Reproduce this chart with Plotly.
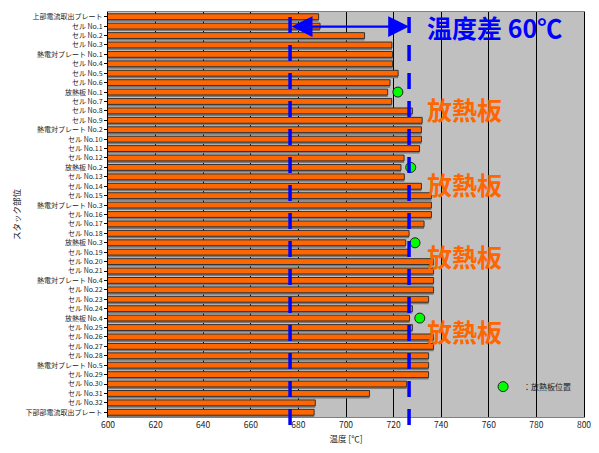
import plotly.graph_objects as go

parts = ["上部電流取出プレート", "セル No.1", "セル No.2", "セル No.3", "熱電対プレート No.1",
         "セル No.4", "セル No.5", "セル No.6", "放熱板 No.1", "セル No.7", "セル No.8", "セル No.9",
         "熱電対プレート No.2", "セル No.10", "セル No.11", "セル No.12", "放熱板 No.2",
         "セル No.13", "セル No.14", "セル No.15", "熱電対プレート No.3", "セル No.16", "セル No.17",
         "セル No.18", "放熱板 No.3", "セル No.19", "セル No.20", "セル No.21", "熱電対プレート No.4",
         "セル No.22", "セル No.23", "セル No.24", "放熱板 No.4", "セル No.25", "セル No.26",
         "セル No.27", "セル No.28", "熱電対プレート No.5", "セル No.29", "セル No.30", "セル No.31",
         "セル No.32", "下部部電流取出プレート"]

temps = [688.5, 689.1, 707.8, 719.3, 719.6, 719.6, 721.9, 718.5, 717.5, 719.2, 727.9, 732.0,
         731.7, 731.7, 730.9, 724.4, 723.1, 724.5, 731.7, 735.9, 735.9, 735.9, 732.8, 726.5,
         725.1, 726.5, 736.8, 736.8, 736.8, 736.8, 734.7, 727.9, 726.7, 727.9, 736.8, 736.8,
         734.7, 734.7, 734.7, 725.5, 709.9, 687.1, 686.6]

sink_names = ["放熱板 No.1", "放熱板 No.2", "放熱板 No.3", "放熱板 No.4"]
sink_temps = [721.8, 727.2, 729.0, 731.0]

dash_low = 676.5
dash_high = 726.5
diff_label = "温度差 60℃"
sink_label = "放熱板"
label_rows = [9.8, 17.8, 25.4, 33.4]

x_ticks = list(range(600, 801, 20))

ypos = list(range(len(parts)))
sink_pos = [parts.index(n) for n in sink_names]

FONT = "Noto Sans CJK JP, Noto Sans, sans-serif"
W = 0.62

fig = go.Figure()
# shadow
fig.add_trace(go.Bar(
    x=temps, y=ypos, orientation="h", width=W, offset=-W / 2 + 0.22,
    marker=dict(color="#7a7a7a", line=dict(width=0)), showlegend=False, hoverinfo="skip"))
fig.add_trace(go.Bar(
    x=temps, y=ypos, orientation="h", width=W, offset=-W / 2,
    marker=dict(color="#FF6600", line=dict(color="#333333", width=1)), showlegend=False))
fig.add_trace(go.Scatter(
    x=sink_temps, y=sink_pos, mode="markers", name="：放熱板位置",
    marker=dict(color="#00FF00", size=10, line=dict(color="#222222", width=1))))

for v in (dash_low, dash_high):
    fig.add_shape(type="line", xref="x", yref="paper", x0=v, x1=v, y0=-0.02, y1=0.993,
                  line=dict(color="#0000FF", width=3.5, dash="16px,12px"))

fig.add_annotation(x=dash_high, y=1.05, ax=dash_low, ay=1.05, xref="x", yref="y",
                   axref="x", ayref="y", text="", showarrow=True, arrowside="end+start",
                   arrowhead=2, arrowsize=1.9, arrowwidth=2.2, arrowcolor="#0000FF")
fig.add_annotation(x=733.0, y=1.1, xref="x", yref="y", text="<b>" + diff_label + "</b>",
                   showarrow=False, xanchor="left", yanchor="middle",
                   font=dict(family=FONT, size=25, color="#0000FF"))
for r in label_rows:
    fig.add_annotation(x=733.0, y=r, xref="x", yref="y", text="<b>" + sink_label + "</b>",
                       showarrow=False, xanchor="left", yanchor="middle",
                       font=dict(family=FONT, size=25, color="#FF6600"))

fig.update_layout(
    width=599, height=453, barmode="overlay",
    margin=dict(l=108, r=8, t=12, b=36),
    paper_bgcolor="white", plot_bgcolor="#C0C0C0",
    font=dict(family=FONT, size=7, color="#222222"),
    legend=dict(x=0.788, y=0.075, xanchor="left", yanchor="middle", bgcolor="rgba(0,0,0,0)",
                font=dict(size=8, color="#222222"), itemwidth=30),
    xaxis=dict(range=[600, 800], tickvals=x_ticks, showgrid=True, gridcolor="#000000",
               gridwidth=1, zeroline=False, showline=True, linecolor="#808080", mirror=True,
               ticks="", tickfont=dict(size=8.5), title=dict(text="温度 [℃]", font=dict(size=8.5),
                                                            standoff=6)),
    yaxis=dict(tickvals=ypos, ticktext=parts, range=[len(parts) - 0.5, -0.5], showgrid=False,
               zeroline=False, showline=True, linecolor="#000000", mirror=True,
               ticks="outside", ticklen=3, tickcolor="#000000", tickfont=dict(size=7),
               title=dict(text="スタック部位", font=dict(size=8.5), standoff=3)),
)

fig.write_html("out.html")
